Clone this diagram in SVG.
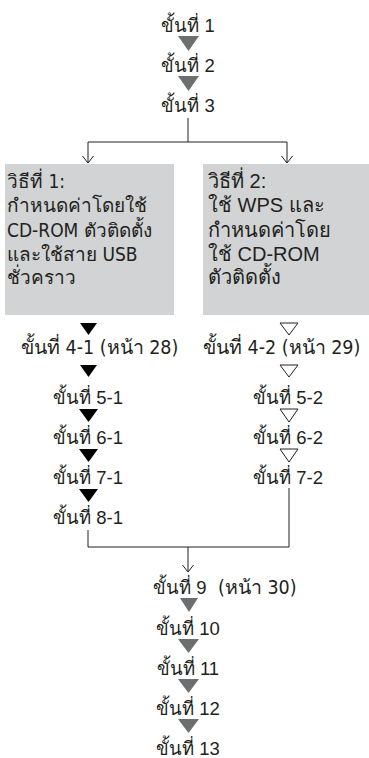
<svg xmlns="http://www.w3.org/2000/svg" width="369" height="758" viewBox="0 0 369 758">
<style>
text{fill:#231f20}
.s{font-family:"Liberation Sans","Noto Sans",sans-serif;font-size:18.5px;text-anchor:middle}
.l{font-family:"Liberation Sans","Noto Sans",sans-serif;font-size:18.5px}
.t{font-family:"DejaVu Sans Condensed","DejaVu Sans","Noto Sans",sans-serif;font-size:19.5px}
.b1{font-family:"DejaVu Sans Condensed","DejaVu Sans","Noto Sans",sans-serif;font-size:19px}
.b2{font-family:"Liberation Sans","Noto Sans",sans-serif;font-size:20px}
.g{fill:#6d6e70}
.k{fill:#000}
.w{fill:#fff;stroke:#231f20;stroke-width:1}
.box{fill:#d1d3d4}
.c{fill:none;stroke:#231f20;stroke-width:1}
</style>
<defs>
<marker id="v" viewBox="0 0 8 12" refX="7.5" refY="6" markerWidth="8" markerHeight="12" markerUnits="userSpaceOnUse" orient="auto">
<path d="M0.5,0.5 L7.5,6 L0.5,11.5" fill="none" stroke="#231f20" stroke-width="1"/>
</marker>
</defs>
<g id="connectors">
<path class="c" d="M188,118 V142"/>
<path class="c" d="M88,142 H287"/>
<path class="c" d="M88,142 V163" marker-end="url(#v)"/>
<path class="c" d="M287,142 V163" marker-end="url(#v)"/>
<path class="c" d="M88,530 V547 H289 V488"/>
<path class="c" d="M188,547 V572" marker-end="url(#v)"/>
<polygon class="g" points="178,36 199,36 188.5,51"/>
<polygon class="g" points="178,76 199,76 188.5,91"/>
<polygon class="k" points="80,323 97,323 88.5,335"/>
<polygon class="k" points="80,365 97,365 88.5,377"/>
<polygon class="k" points="79,409 98,409 88.5,422"/>
<polygon class="k" points="79,449 98,449 88.5,462"/>
<polygon class="k" points="79,489 98,489 88.5,502"/>
<polygon class="w" points="280,323 298,323 289,335"/>
<polygon class="w" points="280,365 298,365 289,377"/>
<polygon class="w" points="280,409 298,409 289,422"/>
<polygon class="w" points="280,449 298,449 289,462"/>
<polygon class="g" points="180,598 198,598 189,612"/>
<polygon class="g" points="178,639 199,639 188.5,653"/>
<polygon class="g" points="178,679 199,679 188.5,693"/>
<polygon class="g" points="178,719 199,719 188.5,733"/>
</g>
<g id="step1"><text class="s" x="188" y="32">ขั้นที่ 1</text></g>
<g id="step2"><text class="s" x="188" y="72">ขั้นที่ 2</text></g>
<g id="step3"><text class="s" x="188" y="112">ขั้นที่ 3</text></g>
<g id="method1">
<rect class="box" x="5" y="164" width="169" height="151"/>
<text class="b1" x="7" y="188">วิธีที่ 1:</text>
<text class="b1" x="7" y="212">กำหนดค่าโดยใช้</text>
<text class="b1" x="7" y="237">CD-ROM ตัวติดตั้ง</text>
<text class="b1" x="7" y="261">และใช้สาย USB</text>
<text class="b1" x="7" y="284">ชั่วคราว</text>
</g>
<g id="method2">
<rect class="box" x="203" y="164" width="166" height="151"/>
<text class="b2" x="208" y="188">วิธีที่ 2:</text>
<text class="b2" x="208" y="212">ใช้ WPS และ</text>
<text class="b2" x="208" y="237">กำหนดค่าโดย</text>
<text class="b2" x="208" y="261">ใช้ CD-ROM</text>
<text class="b2" x="208" y="284">ตัวติดตั้ง</text>
</g>
<g id="step4-1"><text class="t" x="21" y="354">ขั้นที่ 4-1 (หน้า 28)</text></g>
<g id="step5-1"><text class="s" x="88" y="404">ขั้นที่ 5-1</text></g>
<g id="step6-1"><text class="s" x="88" y="444">ขั้นที่ 6-1</text></g>
<g id="step7-1"><text class="s" x="88" y="484">ขั้นที่ 7-1</text></g>
<g id="step8-1"><text class="s" x="88" y="524">ขั้นที่ 8-1</text></g>
<g id="step4-2"><text class="t" x="203" y="354">ขั้นที่ 4-2 (หน้า 29)</text></g>
<g id="step5-2"><text class="s" x="288" y="404">ขั้นที่ 5-2</text></g>
<g id="step6-2"><text class="s" x="288" y="444">ขั้นที่ 6-2</text></g>
<g id="step7-2"><text class="s" x="288" y="484">ขั้นที่ 7-2</text></g>
<g id="step9"><text class="l" x="153" y="594">ขั้นที่ 9 <tspan class="t" x="218">(หน้า 30)</tspan></text></g>
<g id="step10"><text class="s" x="188" y="635">ขั้นที่ 10</text></g>
<g id="step11"><text class="s" x="188" y="675">ขั้นที่ 11</text></g>
<g id="step12"><text class="s" x="188" y="715">ขั้นที่ 12</text></g>
<g id="step13"><text class="s" x="188" y="755">ขั้นที่ 13</text></g>
</svg>
